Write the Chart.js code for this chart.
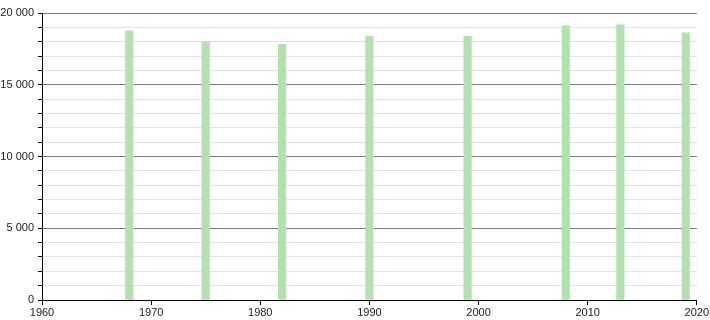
<!DOCTYPE html>
<html>
<head>
<meta charset="utf-8">
<script src="https://cdn.jsdelivr.net/npm/chart.js@4"></script>
<style>
  html, body { margin: 0; padding: 0; background: #fff; }
  #wrap { width: 710px; height: 320px; }
</style>
</head>
<body>
<div id="wrap"><canvas id="chart" width="710" height="320"></canvas></div>
<script>
// --- data ---
const years = [1968, 1975, 1982, 1990, 1999, 2008, 2013, 2019];
const population = [18760, 18020, 17810, 18370, 18370, 19110, 19180, 18620];
const xTicks = [1960, 1970, 1980, 1990, 2000, 2010, 2020];
const yMajorTicks = [0, 5000, 10000, 15000, 20000];

function fmt(v) {
    return String(v).replace(/\B(?=(\d{3})+(?!\d))/g, ' ');
}

const points = years.map((y, i) => ({ x: y, y: population[i] }));

new Chart(document.getElementById('chart'), {
    type: 'bar',
    data: {
        datasets: [{
            data: points,
            backgroundColor: '#b2e2ad',
            borderWidth: 0,
            barThickness: 7.5
        }]
    },
    options: {
        responsive: false,
        animation: false,
        layout: { padding: { left: 0, right: 13, top: 13, bottom: 0 } },
        plugins: { legend: { display: false }, tooltip: { enabled: false } },
        scales: {
            x: {
                type: 'linear',
                offset: false,
                min: xTicks[0],
                max: xTicks[xTicks.length - 1],
                afterBuildTicks: s => { s.ticks = xTicks.map(v => ({ value: v })); },
                afterFit: s => { s.height = 20; },
                border: { color: '#000', width: 1 },
                grid: { offset: false, drawOnChartArea: false, drawTicks: true, tickLength: 5, tickColor: '#000' },
                ticks: { color: '#222', font: { family: 'Liberation Sans, Arial', size: 11 }, padding: 1, maxRotation: 0, callback: v => String(v) }
            },
            y: {
                min: 0,
                max: 20000,
                ticks: {
                    stepSize: 1000,
                    autoSkip: false,
                    color: '#222',
                    padding: 4,
                    font: { family: 'Liberation Sans, Arial', size: 11 },
                    callback: v => yMajorTicks.includes(v) ? fmt(v) : ''
                },
                afterFit: s => { s.width = 42; },
                border: { color: '#000', width: 1 },
                grid: {
                    tickLength: 4,
                    tickColor: '#000',
                    color: ctx => {
                        const v = ctx.tick ? ctx.tick.value : 0;
                        return yMajorTicks.includes(v) ? '#7a7a7a' : '#e2e2e2';
                    }
                }
            }
        }
    }
});
</script>
</body>
</html>
